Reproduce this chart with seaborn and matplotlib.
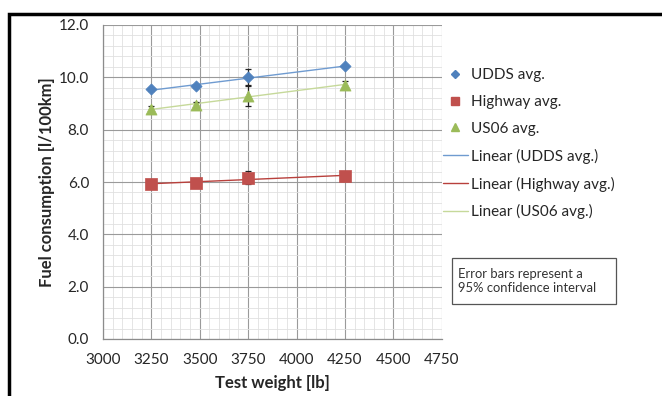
import numpy as np
import pandas as pd
import matplotlib
matplotlib.use("Agg")
import matplotlib.pyplot as plt
from matplotlib.lines import Line2D
from matplotlib.patches import Rectangle
from matplotlib.ticker import MultipleLocator
import seaborn as sns

# ---- data ----
weights = [3250, 3480, 3750, 4250]
udds = [9.54, 9.66, 10.00, 10.43]
highway = [5.93, 5.97, 6.16, 6.23]
us06 = [8.80, 8.93, 9.30, 9.72]
udds_err = [0.05, 0.06, 0.30, 0.05]
highway_err = [0.06, 0.05, 0.25, 0.06]
us06_err = [0.12, 0.13, 0.38, 0.15]
series_names = ["UDDS avg.", "Highway avg.", "US06 avg."]
x_ticks = [3000, 3250, 3500, 3750, 4000, 4250, 4500, 4750]
y_ticks = [0.0, 2.0, 4.0, 6.0, 8.0, 10.0, 12.0]

sns.set_theme(style="white")
plt.rcParams["font.family"] = ["Lato", "DejaVu Sans"]

fig = plt.figure(figsize=(6.62, 3.96), dpi=100)
ax = fig.add_axes([103 / 662, 1 - 339 / 396, (441.7 - 103) / 662, (339 - 25) / 396])

marker_colors = ["#4f81bd", "#c0504d", "#9bbb59"]
line_colors = ["#6f9bd0", "#b8403c", "#c6d99a"]
markers = ["D", "s", "^"]
msizes = [5, 7, 7]
vals = [udds, highway, us06]
errs = [udds_err, highway_err, us06_err]

frames = []
for name, v in zip(series_names, vals):
    frames.append(pd.DataFrame({"weight": weights, "fuel": v, "series": name}))
df = pd.concat(frames, ignore_index=True)

# grid
ax.set_xlim(3000, 4750)
ax.set_ylim(0, 12)
ax.set_xticks(x_ticks)
ax.set_yticks(y_ticks)
ax.xaxis.set_minor_locator(MultipleLocator(50))
ax.yaxis.set_minor_locator(MultipleLocator(0.4))
ax.grid(which="major", color="#9a9a9a", linewidth=0.8)
ax.grid(which="minor", color="#e0e0e0", linewidth=0.6)
ax.set_axisbelow(True)

# trend lines
for name, lc in zip(series_names, line_colors):
    sub = df[df["series"] == name]
    sns.regplot(data=sub, x="weight", y="fuel", ax=ax, scatter=False, ci=None,
                truncate=True, line_kws={"color": lc, "linewidth": 1.0, "zorder": 3})

# error bars
for v, e in zip(vals, errs):
    ax.errorbar(weights, v, yerr=e, fmt="none", ecolor="#222222", elinewidth=0.9,
                capsize=2.5, capthick=0.9, zorder=4)

# markers
for name, mc, mk, ms in zip(series_names, marker_colors, markers, msizes):
    sub = df[df["series"] == name]
    sns.scatterplot(data=sub, x="weight", y="fuel", ax=ax, marker=mk, color=mc,
                    s=ms ** 2 * 1.3, edgecolor=mc, linewidth=0.5, zorder=5, legend=False)

for s in ["top", "right"]:
    ax.spines[s].set_visible(False)
for s in ["left", "bottom"]:
    ax.spines[s].set_color("#8c8c8c")
    ax.spines[s].set_linewidth(0.9)

ax.tick_params(axis="both", which="major", direction="out", length=5, width=0.8,
               color="#8c8c8c", labelsize=11, labelcolor="#262626", pad=5)
ax.tick_params(axis="x", which="major", direction="inout", length=6, pad=7)
ax.tick_params(which="minor", length=0)
ax.set_yticklabels([f"{t:.1f}" for t in y_ticks])
ax.set_xticklabels([str(t) for t in x_ticks])

ax.set_xlabel("Test weight [lb]", fontsize=12, fontweight="bold", labelpad=6)
ax.set_ylabel("Fuel consumption [l/100km]", fontsize=12, fontweight="bold", labelpad=3)

# legend
handles = []
for name, mc, mk, ms in zip(series_names, marker_colors, markers, [4, 6, 6]):
    handles.append(Line2D([], [], linestyle="none", marker=mk, color=mc, markersize=ms, label=name))
for name, lc in zip(series_names, line_colors):
    handles.append(Line2D([], [], color=lc, linewidth=1.0, label=f"Linear ({name})"))
fig.legend(handles=handles, loc="upper left", bbox_to_anchor=(437 / 662, 1 - 62 / 396),
           frameon=False, fontsize=11, handlelength=1.6, handletextpad=0.2,
           labelspacing=0.84, borderaxespad=0)

# annotation box
fig.text(458 / 662, 1 - 281 / 396, "Error bars represent a\n95% confidence interval",
         fontsize=9.4, color="#333333", va="center", ha="left", linespacing=1.25)
fig.patches.append(Rectangle((452 / 662, 1 - 304 / 396), (616 - 452) / 662, (304 - 258) / 396,
                             transform=fig.transFigure, fill=False, edgecolor="#555555",
                             linewidth=0.9))

# outer frame (cropped)
fig.patches.append(Rectangle((8.5 / 662, -0.1), 1.2, 1.1 - 13.5 / 396,
                             transform=fig.transFigure, fill=False, edgecolor="black",
                             linewidth=2.5))

fig.savefig("out.png", dpi=100)
